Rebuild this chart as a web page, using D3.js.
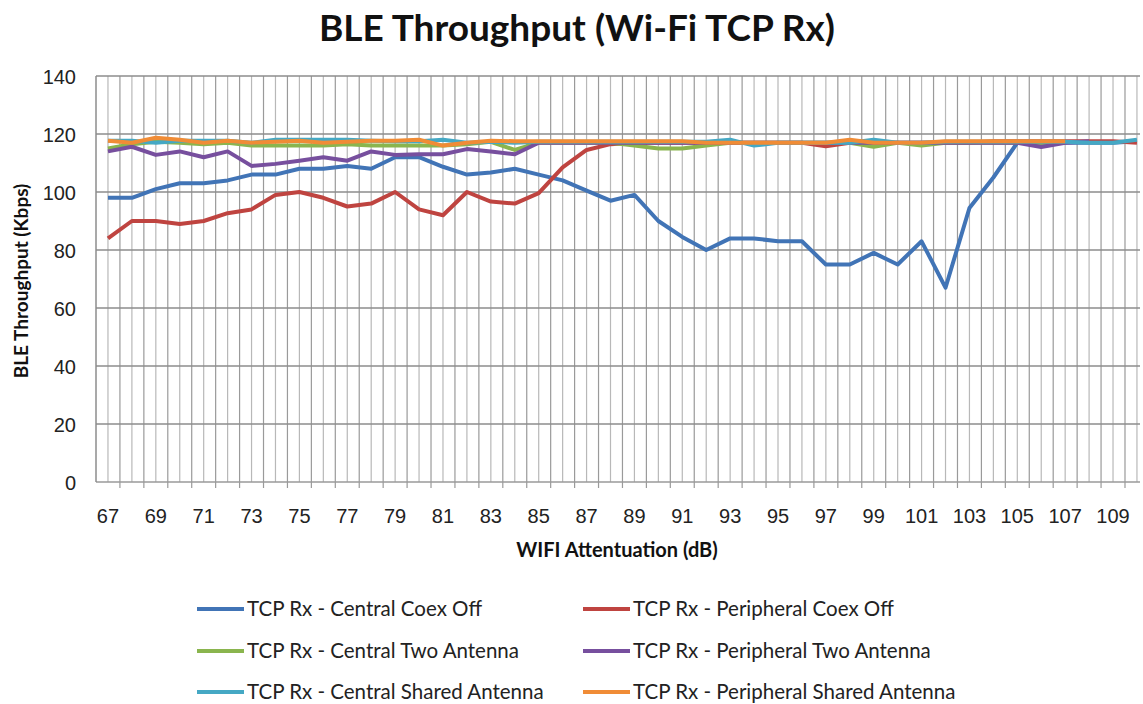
<!DOCTYPE html>
<html lang="en">
<head>
  <meta charset="utf-8">
  <title>BLE Throughput</title>
  <script src="https://d3js.org/d3.v7.min.js"></script>
  <style>
  body {
    margin: 0;
    background: white;
    font-family: Lato, "Open Sans", sans-serif;
  }
  .tick-label {
    font-size: 20px;
    fill: #222;
  }
  .axis-title {
    font-weight: bold;
    fill: #111;
  }
  .legend-label {
    font-size: 20.5px;
    fill: #222;
  }
  </style>
</head>
<body>
<script>

// attenuation values (dB)
var attenuation = d3.range(67, 111);
var yTicks = [0, 20, 40, 60, 80, 100, 120, 140];

var seriesNames = [
  "TCP Rx - Central Coex Off",
  "TCP Rx - Peripheral Coex Off",
  "TCP Rx - Central Two Antenna",
  "TCP Rx - Peripheral Two Antenna",
  "TCP Rx - Central Shared Antenna",
  "TCP Rx - Peripheral Shared Antenna"
];
var seriesColors = ["#4174b6", "#bf4440", "#8ab54e", "#774f9e", "#45a8c4", "#f08c36"];

// values, 67 dB .. 110 dB (null = no point)
var centralCoexOff = [98, 98, 101, 103, 103, 104, 106, 106, 108, 108, 109, 108, 112, 112, 108.7, 106,
  106.7, 108, 106, 104, 100.5, 97, 99, 90, 84.5, 80, 84, 84, 83, 83, 75, 75, 79, 75, 83, 67,
  94.5, 105, 117, 117, 117, 117, 117, 117.5];
var peripheralCoexOff = [84, 90, 90, 89, 90, 92.7, 94, 99, 100, 98, 95, 96, 100, 94, 92, 100,
  96.7, 96, 99.6, 108.5, 114.5, 116.5, 117, 117, 117, 117, 117, 117, 117, 117, 115.8, 117, 117,
  117, 117, 117, 117, 117.5, 117.5, 117.5, 117.5, 117.5, 117.5, 117];
var centralTwoAntenna = [115, 116.5, 117.3, 117, 116.5, 117, 116, 116, 116, 116, 116.5, 116,
  116, 116, 116, 116.5, 117.3, 114.5, 117, 117, 117, 117, 116, 115, 115, 116, 117, 117, 117, 117,
  117, 117, 115.6, 117, 116, 117, 117, 117, 117, 117, 117, null, null, null];
var peripheralTwoAntenna = [114, 115.6, 112.8, 114, 112, 114, 109, 109.7, 110.8, 112, 110.8, 114,
  112.8, 113, 113, 114.8, 114, 113, 117, 117, 117, 117, 117, 117, 117, 117, 117, 117, 117, 117,
  117, 117, 117, 117, 117, 117, 117, 117, 117, 115.5, 117, 117.5, null, null];
var centralSharedAntenna = [117.7, 117.7, 117, 117.7, 117.7, 117.7, 117, 118, 118, 118, 118,
  117.7, 117.5, 117.5, 118, 117, 117.3, 117, 117.3, 117.3, 117.3, 117.3, 117.3, 117.3, 117.3, 117.3,
  118, 116, 117, 117, 117, 117, 118, 117, 117, 117.3, 117.3, 117.3, 117.3, 117.3, 117.3, 117,
  117, 118];
var peripheralSharedAntenna = [117.7, 117, 118.7, 118, 117, 117.7, 117, 117.3, 117.7, 117,
  117.3, 117.7, 117.7, 118, 116, 117, 117.7, 117.5, 117.5, 117.5, 117.5, 117.5, 117.5, 117.5,
  117.5, 117, 117, 117, 117, 117, 117, 118, 117, 117, 117, 117.5, 117.5, 117.5, 117.5, 117.5,
  117.5, null, null, null];

var seriesValues = [centralCoexOff, peripheralCoexOff, centralTwoAntenna,
  peripheralTwoAntenna, centralSharedAntenna, peripheralSharedAntenna];

// Display constants
var width = 1143;
var height = 704;
var margin = {left: 96, top: 76, bottom: 482};
var band = 23.93;
var plotRight = 1140;

var svg = d3.select("body")
  .append("svg")
  .attr("width", width)
  .attr("height", height);

var x = d3.scaleBand()
  .domain(attenuation)
  .range([margin.left, margin.left + band * attenuation.length])
  .padding(0);

var y = d3.scaleLinear()
  .domain([0, 140])
  .range([margin.bottom, margin.top]);

svg.append("clipPath")
  .attr("id", "plot-clip")
  .append("rect")
  .attr("x", margin.left)
  .attr("y", 0)
  .attr("width", plotRight - margin.left)
  .attr("height", height);

var plot = svg.append("g").attr("clip-path", "url(#plot-clip)");

// vertical grid: light line at each point, darker line between categories
plot.selectAll(".minor-grid")
  .data(attenuation)
  .enter().append("line")
  .attr("x1", function(d) { return x(d) + x.bandwidth() / 2; })
  .attr("x2", function(d) { return x(d) + x.bandwidth() / 2; })
  .attr("y1", y(140))
  .attr("y2", y(0))
  .attr("stroke", "#b8b8b8")
  .attr("stroke-width", 1.2);

plot.selectAll(".major-grid")
  .data(attenuation)
  .enter().append("line")
  .attr("x1", function(d) { return x(d) + x.bandwidth(); })
  .attr("x2", function(d) { return x(d) + x.bandwidth(); })
  .attr("y1", y(140))
  .attr("y2", y(0) + 6)
  .attr("stroke", "#9a9a9a")
  .attr("stroke-width", 1.2);

// horizontal grid
plot.selectAll(".h-grid")
  .data(yTicks)
  .enter().append("line")
  .attr("x1", margin.left - 6)
  .attr("x2", plotRight)
  .attr("y1", function(d) { return y(d); })
  .attr("y2", function(d) { return y(d); })
  .attr("stroke", function(d) { return d == 0 ? "#9a9a9a" : "#8c8c8c"; })
  .attr("stroke-width", 1.5);

// y axis line
svg.append("line")
  .attr("x1", margin.left)
  .attr("x2", margin.left)
  .attr("y1", y(140))
  .attr("y2", y(0))
  .attr("stroke", "#8c8c8c")
  .attr("stroke-width", 1.5);

// y tick labels
var yAxis = svg.append("g")
  .attr("transform", "translate(" + margin.left + ",0)")
  .call(d3.axisLeft(y).tickValues(yTicks).tickSize(0).tickPadding(20));
yAxis.select(".domain").remove();
yAxis.selectAll("text")
  .attr("class", "tick-label")
  .attr("font-family", null)
  .attr("font-size", null)
  .attr("dy", "0.36em");

// x tick labels (every other category)
var xAxis = svg.append("g")
  .attr("transform", "translate(0," + y(0) + ")")
  .call(d3.axisBottom(x)
    .tickValues(attenuation.filter(function(d) { return d % 2 == 1; }))
    .tickSize(0).tickPadding(27));
xAxis.select(".domain").remove();
xAxis.selectAll("text")
  .attr("class", "tick-label")
  .attr("font-family", null)
  .attr("font-size", null);

// lines
var line = d3.line()
  .defined(function(d) { return d[1] != null; })
  .x(function(d) { return x(d[0]) + x.bandwidth() / 2; })
  .y(function(d) { return y(d[1]); });

seriesValues.forEach(function(vals, i) {
  plot.append("path")
    .datum(attenuation.map(function(a, j) { return [a, vals[j]]; }))
    .attr("fill", "none")
    .attr("stroke", seriesColors[i])
    .attr("stroke-width", 4)
    .attr("stroke-linejoin", "round")
    .attr("d", line);
});

// titles
svg.append("text")
  .attr("class", "axis-title")
  .attr("x", 577)
  .attr("y", 41)
  .attr("text-anchor", "middle")
  .attr("font-size", "37px")
  .text("BLE Throughput (Wi-Fi TCP Rx)");

svg.append("text")
  .attr("class", "axis-title")
  .attr("x", 617)
  .attr("y", 557)
  .attr("text-anchor", "middle")
  .attr("font-size", "20px")
  .text("WIFI Attentuation (dB)");

svg.append("text")
  .attr("class", "axis-title")
  .attr("transform", "translate(28,281) rotate(-90)")
  .attr("text-anchor", "middle")
  .attr("font-size", "19px")
  .text("BLE Throughput (Kbps)");

// legend, two columns by three rows
var legendCols = [197, 583];
var legendRows = [609, 651, 692];
var legend = svg.append("g").attr("class", "legend");

seriesNames.forEach(function(name, i) {
  var lx = legendCols[i % 2];
  var ly = legendRows[Math.floor(i / 2)];
  legend.append("line")
    .attr("x1", lx)
    .attr("x2", lx + 47)
    .attr("y1", ly)
    .attr("y2", ly)
    .attr("stroke", seriesColors[i])
    .attr("stroke-width", 4);
  legend.append("text")
    .attr("class", "legend-label")
    .attr("x", lx + 50)
    .attr("y", ly + 7)
    .text(name);
});

</script>
</body>
</html>
